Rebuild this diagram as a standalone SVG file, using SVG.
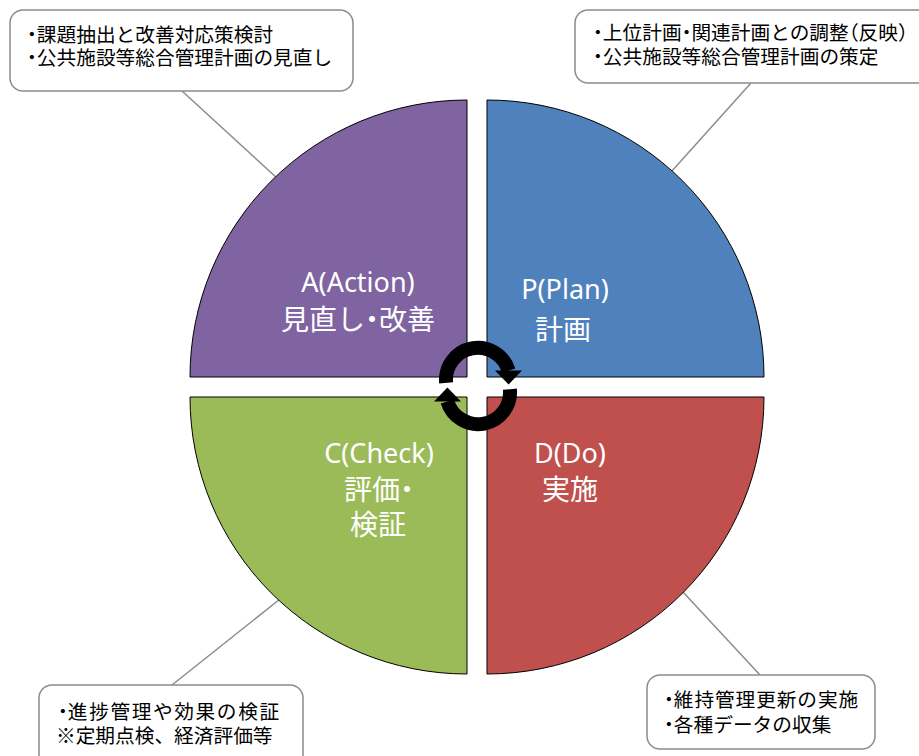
<svg xmlns="http://www.w3.org/2000/svg" width="919" height="756" viewBox="0 0 919 756">
<style>
.q{stroke:#000;stroke-width:1}
.box{fill:#fff;stroke:#8c8c8c;stroke-width:1.5}
.lead{stroke:#8c8c8c;stroke-width:1.5;fill:none}
.ct{font-family:"Noto Sans CJK JP","Noto Sans",sans-serif;font-size:19.7px;fill:#000}
.lt{font-family:"Noto Sans","Noto Sans CJK JP",sans-serif;font-size:27px;fill:#fff;text-anchor:middle}
.lj{font-family:"Noto Sans CJK JP","Noto Sans",sans-serif;font-size:28px;fill:#fff;text-anchor:middle}
.h{font-feature-settings:"halt"}
.arc{fill:none;stroke:#000;stroke-width:14}
</style>
<rect width="919" height="756" fill="#fff"/>
<g id="connectors">
<line class="lead" x1="182" y1="91" x2="278" y2="179"/>
<line class="lead" x1="751" y1="83" x2="671" y2="172"/>
<line class="lead" x1="172" y1="685" x2="280" y2="599"/>
<line class="lead" x1="760" y1="675" x2="683" y2="592"/>
</g>
<g id="plan">
<path class="q" fill="#4F81BD" d="M487,377 L487,100 A277,277 0 0 1 764,377 Z"/>
<text class="lt" x="565" y="299">P(Plan)</text>
<text class="lj" x="563" y="340">計画</text>
</g>
<g id="do">
<path class="q" fill="#C0504D" d="M487,397 L764,397 A277,277 0 0 1 487,674 Z"/>
<text class="lt" x="570" y="463">D(Do)</text>
<text class="lj" x="570" y="500">実施</text>
</g>
<g id="check">
<path class="q" fill="#9BBB59" d="M467,397 L467,674 A277,277 0 0 1 190,397 Z"/>
<text class="lt" x="379" y="463">C(Check)</text>
<text class="lj" x="379" y="500">評価<tspan class="h">・</tspan></text>
<text class="lj" x="378" y="535">検証</text>
</g>
<g id="action">
<path class="q" fill="#8064A2" d="M467,377 L190,377 A277,277 0 0 1 467,100 Z"/>
<text class="lt" x="358" y="292">A(Action)</text>
<text class="lj" x="358" y="330">見直し<tspan class="h">・</tspan>改善</text>
</g>
<g id="cycle">
<path class="arc" d="M446.1,382.8 A32,32 0 0 1 508.6,370.6"/>
<polygon points="495,370.6 522,370.6 508.6,384.5" fill="#000"/>
<path class="arc" d="M509.9,389.2 A32,32 0 0 1 447.4,401.4"/>
<polygon points="461,401.4 434,401.4 447.4,387.5" fill="#000"/>
</g>
<g id="note-action">
<rect class="box" x="10" y="10" width="343" height="81" rx="13"/>
<text class="ct" x="27" y="41.5"><tspan class="h">・</tspan>課題抽出と改善対応策検討</text>
<text class="ct" x="27" y="65"><tspan class="h">・</tspan>公共施設等総合管理計画の見直し</text>
</g>
<g id="note-plan">
<rect class="box" x="575" y="10" width="360" height="73" rx="13"/>
<text class="ct" x="593" y="40"><tspan class="h">・</tspan>上位計画<tspan class="h">・</tspan>関連計画との調整<tspan class="h">（</tspan>反映<tspan class="h">）</tspan></text>
<text class="ct" x="593" y="63.5"><tspan class="h">・</tspan>公共施設等総合管理計画の策定</text>
</g>
<g id="note-check">
<rect class="box" x="39" y="685" width="264" height="90" rx="13"/>
<text class="ct" x="58" y="718.5"><tspan class="h">・</tspan><tspan letter-spacing="1.6">進捗管理や効果の検証</tspan></text>
<text class="ct" x="56" y="742.5">※定期点検、経済評価等</text>
</g>
<g id="note-do">
<rect class="box" x="647" y="675" width="228" height="74" rx="13"/>
<text class="ct" x="664" y="707"><tspan class="h">・</tspan><tspan letter-spacing="0.9">維持管理更新の実施</tspan></text>
<text class="ct" x="664" y="731.5"><tspan class="h">・</tspan>各種データの収集</text>
</g>
</svg>
